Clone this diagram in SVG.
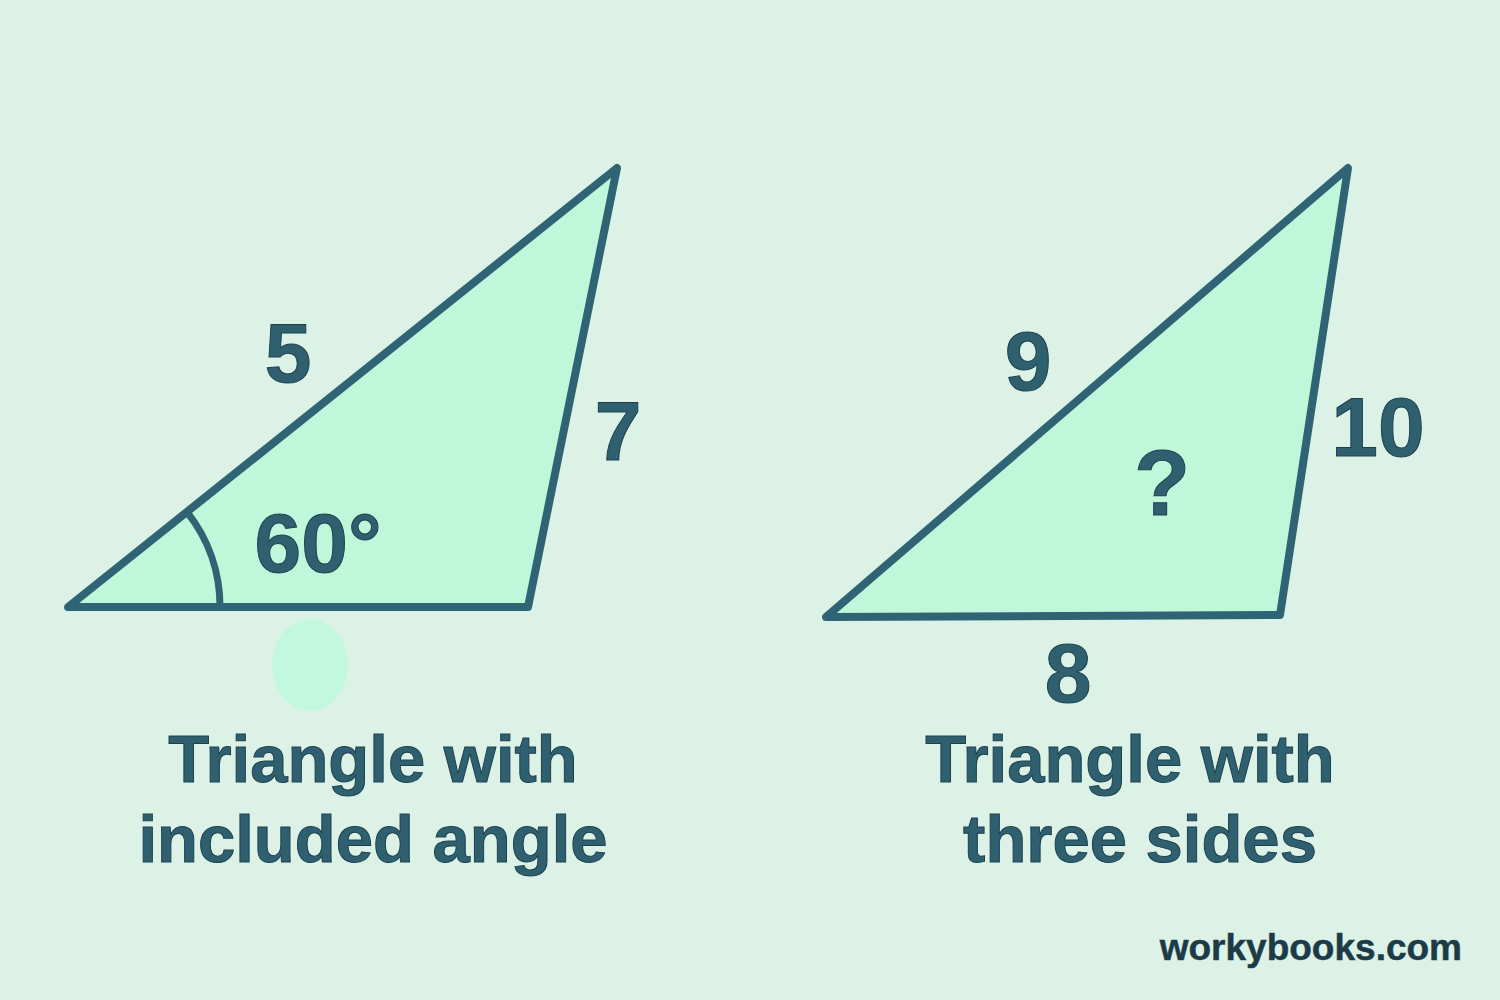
<svg xmlns="http://www.w3.org/2000/svg" width="1500" height="1000" viewBox="0 0 1500 1000">
<style>
.tri{fill:#bff7da;stroke:#2e6474;stroke-width:8;stroke-linejoin:round}
.t{font-family:"Liberation Sans",Arial,sans-serif;font-weight:700;fill:#2e6070;stroke:#1d3f4c;stroke-width:1}
.lab{font-size:67px;text-anchor:middle}
.num{font-size:84px;text-anchor:middle}
</style>
<rect width="1500" height="1000" fill="#dcf2e6"/>
<g id="triangle1">
<polygon class="tri" points="68,607 617,168 528,607"/>
<path d="M187,512 A152,152 0 0 1 220,607" fill="none" stroke="#2e6474" stroke-width="7"/>
<text class="t num" x="288" y="382">5</text>
<text class="t num" x="618" y="460">7</text>
<text class="t num" x="318" y="572">60°</text>
</g>
<ellipse cx="310" cy="665" rx="38" ry="46" fill="#c2f8dd"/>
<g id="triangle2">
<polygon class="tri" points="826,617 1348,168 1280,615"/>
<text class="t num" x="1028" y="390">9</text>
<text class="t num" x="1378" y="456">10</text>
<text class="t num" x="1162" y="515" style="font-size:92px">?</text>
<text class="t num" x="1068" y="702">8</text>
</g>
<g id="label1">
<text class="t lab" x="373" y="782">Triangle with</text>
<text class="t lab" x="373" y="862">included angle</text>
</g>
<g id="label2">
<text class="t lab" x="1130" y="782">Triangle with</text>
<text class="t lab" x="1140" y="862">three sides</text>
</g>
<text class="t" x="1462" y="960" text-anchor="end" font-size="37" style="fill:#1d3a47;stroke-width:0.5">workybooks.com</text>
</svg>
